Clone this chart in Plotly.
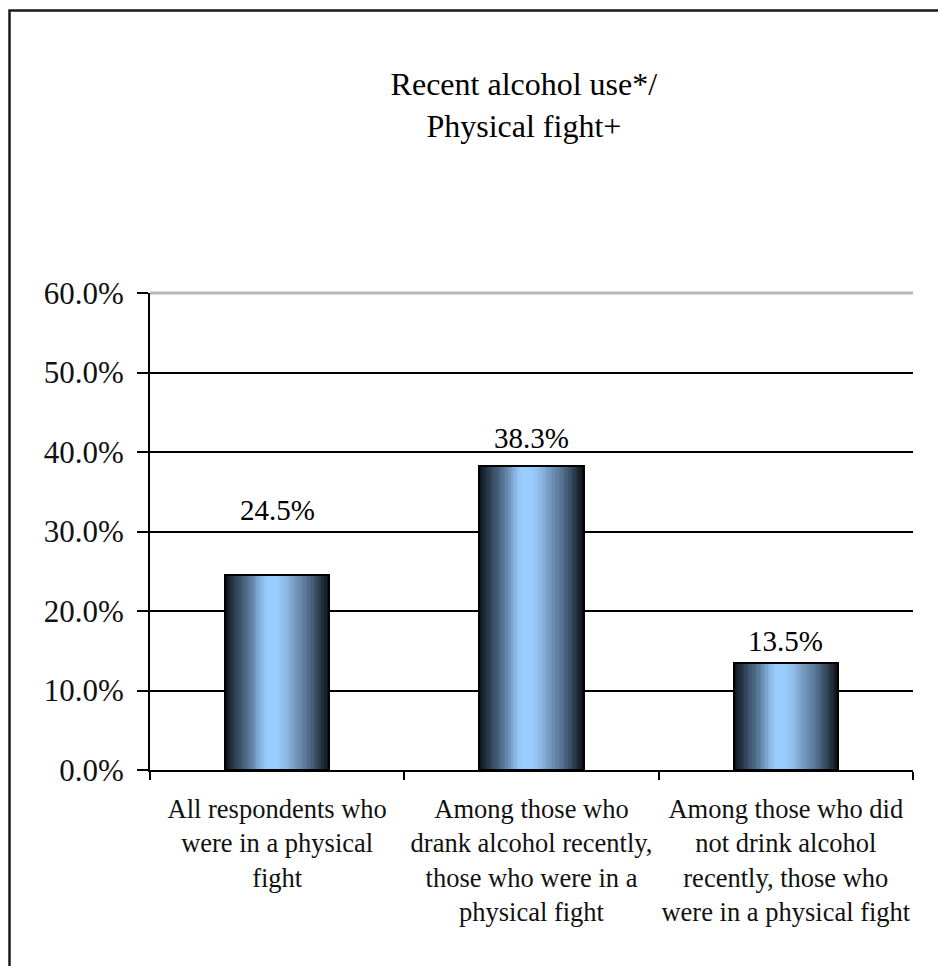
import plotly.graph_objects as go

# ---- data ----
categories = [
    "All respondents who were in a physical fight",
    "Among those who drank alcohol recently, those who were in a physical fight",
    "Among those who did not drink alcohol recently, those who were in a physical fight",
]
tick_text = [
    "All respondents who<br>were in a physical<br>fight",
    "Among those who<br>drank alcohol recently,<br>those who were in a<br>physical fight",
    "Among those who did<br>not drink alcohol<br>recently, those who<br>were in a physical fight",
]
values = [24.5, 38.3, 13.5]
y_ticks = [0, 10, 20, 30, 40, 50, 60]
y_tick_labels = ["0.0%", "10.0%", "20.0%", "30.0%", "40.0%", "50.0%", "60.0%"]
title_text = "Recent alcohol use*/<br>Physical fight+"

# ---- style ----
FONT = "Liberation Serif, Times New Roman, serif"
BAR_W = 0.41
N_STRIPS = 40
label_shift = [47, 10, 4]

stops = [
    (0.00, (10, 17, 24)),
    (0.05, (30, 43, 56)),
    (0.15, (61, 84, 107)),
    (0.25, (93, 126, 159)),
    (0.33, (133, 176, 219)),
    (0.40, (153, 204, 255)),
    (0.50, (153, 204, 255)),
    (0.58, (143, 187, 232)),
    (0.68, (115, 150, 187)),
    (0.80, (83, 112, 142)),
    (0.90, (47, 64, 82)),
    (1.00, (10, 16, 22)),
]


def grad_color(t):
    for (t0, c0), (t1, c1) in zip(stops[:-1], stops[1:]):
        if t0 <= t <= t1:
            f = 0 if t1 == t0 else (t - t0) / (t1 - t0)
            r, g, b = (round(a + (b_ - a) * f) for a, b_ in zip(c0, c1))
            return f"rgb({r},{g},{b})"
    return "rgb(10,16,22)"


fig = go.Figure()
sw = BAR_W / N_STRIPS
for i in range(N_STRIPS):
    t = (i + 0.5) / N_STRIPS
    fig.add_trace(go.Bar(
        x=categories, y=values,
        width=sw * 1.05, offset=-BAR_W / 2 + i * sw,
        marker=dict(color=grad_color(t), line=dict(width=0)),
        showlegend=False, hoverinfo="skip",
    ))
# outline
fig.add_trace(go.Bar(
    x=categories, y=values, width=BAR_W, offset=-BAR_W / 2,
    marker=dict(color="rgba(0,0,0,0)", line=dict(color="black", width=2)),
    showlegend=False, hoverinfo="skip",
))

for c, v, s in zip(categories, values, label_shift):
    fig.add_annotation(
        x=c, y=v, text=f"{v:.1f}%", showarrow=False,
        yanchor="bottom", yshift=s,
        font=dict(family=FONT, size=29, color="black"),
    )

fig.update_layout(
    width=938, height=966,
    margin=dict(l=150, r=25, t=293, b=196, autoexpand=False),
    paper_bgcolor="white", plot_bgcolor="white",
    barmode="overlay", bargap=0,
    font=dict(family=FONT, color="black"),
    title=dict(
        text=title_text, xref="paper", x=0.49, xanchor="center",
        yref="container", y=1 - 95 / 966, yanchor="middle",
        font=dict(family=FONT, size=32, color="black"),
    ),
    xaxis=dict(
        type="category", categoryorder="array", categoryarray=categories,
        tickmode="array", tickvals=categories, ticktext=tick_text,
        tickson="boundaries", ticks="outside", ticklen=8, tickwidth=2,
        tickcolor="black", showline=True, linecolor="black", linewidth=2,
        showgrid=False, tickfont=dict(family=FONT, size=26.5, color="#111"),
        tickangle=0, automargin=False, ticklabelstandoff=14,
    ),
    yaxis=dict(
        range=[0, 60], tickmode="array", tickvals=y_ticks, ticktext=y_tick_labels,
        ticks="outside", ticklen=11, tickwidth=2, tickcolor="black",
        showline=True, linecolor="black", linewidth=2,
        showgrid=True, gridcolor="black", gridwidth=2, zeroline=False,
        tickfont=dict(family=FONT, size=31, color="#111"),
        automargin=False, ticklabelstandoff=7,
    ),
    shapes=[
        dict(type="line", xref="x domain", yref="y domain", x0=0, x1=1, y0=1, y1=1,
             line=dict(color="#b8b8b8", width=3), layer="above"),
        dict(type="rect", xref="paper", yref="paper",
             x0=(9.5 - 150) / 763, x1=1.3, y0=-0.6, y1=(770 - 10.5) / 477,
             line=dict(color="#1a1a1a", width=2.5), fillcolor="rgba(0,0,0,0)"),
    ],
)

fig.write_html("out.html", config={"displayModeBar": False},
               post_script="document.body.style.margin='0';")
